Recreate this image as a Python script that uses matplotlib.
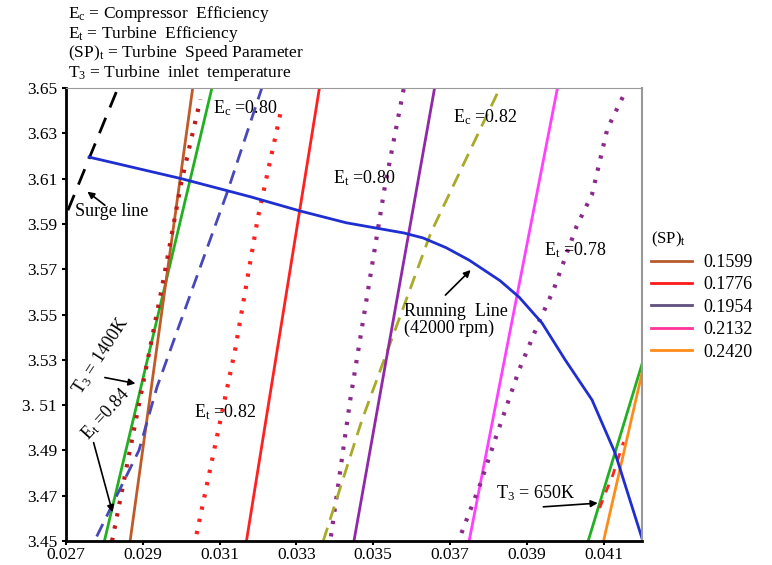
import matplotlib
matplotlib.use('Agg')
import matplotlib.pyplot as plt
from matplotlib.lines import Line2D

plt.rcParams['font.family'] = ['Liberation Serif', 'DejaVu Serif']
plt.rcParams['mathtext.fontset'] = 'custom'
plt.rcParams['mathtext.rm'] = 'Liberation Serif'
plt.rcParams['mathtext.it'] = 'Liberation Serif:italic'
plt.rcParams['font.size'] = 13

# running line (42000 rpm)
run_x = [0.0276, 0.0300, 0.0318, 0.0331, 0.0343, 0.0352, 0.0358, 0.0363, 0.0369, 0.0375, 0.0383, 0.0388, 0.0394, 0.0400, 0.0407, 0.0413, 0.0420]
run_y = [3.6195, 3.6100, 3.6020, 3.5957, 3.5905, 3.5878, 3.5860, 3.5838, 3.5795, 3.5740, 3.5650, 3.5577, 3.5462, 3.5300, 3.5123, 3.4889, 3.4513]

# surge line
surge_x = [0.02705, 0.02840]
surge_y = [3.596, 3.652]

# constant speed-parameter / efficiency lines
brown_x = [0.02867, 0.0303]
brown_y = [3.45, 3.65]
darkred_dot_x = [0.0282, 0.0295, 0.0300, 0.0305]
darkred_dot_y = [3.45, 3.562, 3.608, 3.645]
blue_dash_x = [0.0278, 0.0289, 0.02937, 0.0312, 0.0321]
blue_dash_y = [3.452, 3.490, 3.518, 3.604, 3.65]
red_dot_x = [0.0304, 0.0314, 0.0320, 0.0326]
red_dot_y = [3.453, 3.534, 3.593, 3.640]
red_x = [0.0317, 0.0336]
red_y = [3.45, 3.65]
red_dash_x = [0.0409, 0.04105, 0.04124, 0.04152]
red_dash_y = [3.4646, 3.4712, 3.479, 3.4937]
purple_dot_x = [0.0339, 0.0344, 0.0353, 0.0358]
purple_dot_y = [3.452, 3.512, 3.606, 3.650]
olive_dash_x = [0.0337, 0.0347, 0.0365, 0.0383]
olive_dash_y = [3.45, 3.503, 3.586, 3.65]
purple_x = [0.0345, 0.0366]
purple_y = [3.45, 3.65]
magenta_x = [0.0375, 0.0398]
magenta_y = [3.45, 3.65]
purple_dot2_x = [0.0373, 0.0378, 0.0382, 0.0388, 0.0393, 0.0397, 0.0403, 0.0407, 0.0411, 0.0415]
purple_dot2_y = [3.4535, 3.4756, 3.496, 3.5255, 3.546, 3.561, 3.589, 3.603, 3.632, 3.646]
orange_x = [0.0410, 0.0420]
orange_y = [3.45, 3.524]

# constant T3 lines
t3_1400_x = [0.0280, 0.0308]
t3_1400_y = [3.45, 3.65]
t3_650_x = [0.0406, 0.0420]
t3_650_y = [3.45, 3.528]

sp_values = ['0.1599', '0.1776', '0.1954', '0.2132', '0.2420']
sp_colors = ['#b85a2c', '#ff1a1a', '#5e5080', '#ff3399', '#ff8c1a']

xticks = [0.027, 0.029, 0.031, 0.033, 0.035, 0.037, 0.039, 0.041]
xticklabels = ['0.027', '0.029', '0.031', '0.033', '0.035', '0.037', '0.039', '0.041']
yticks = [3.45, 3.47, 3.49, 3.51, 3.53, 3.55, 3.57, 3.59, 3.61, 3.63, 3.65]
yticklabels = ['3.45', '3.47', '3.49', '3. 51', '3.53', '3.55', '3.57', '3.59', '3.61', '3.63', '3.65']

fig = plt.figure(figsize=(7.72, 5.65), dpi=100)
ax = fig.add_axes([0.0855, 0.0425, 0.746, 0.8017])

dot = (0, (0.8, 2.2))
dash = (0, (5, 3))

ax.plot(surge_x, surge_y, color='black', lw=2, linestyle=(0, (6, 4)))
ax.plot(t3_1400_x, t3_1400_y, color='#22b022', lw=2)
ax.plot(brown_x, brown_y, color='#c05a28', lw=2)
ax.plot(darkred_dot_x, darkred_dot_y, color='#c01a1a', lw=3, linestyle=dot)
ax.plot(blue_dash_x, blue_dash_y, color='#4848b8', lw=2, linestyle=dash)
ax.plot(red_dot_x, red_dot_y, color='#ff2020', lw=3, linestyle=dot)
ax.plot(red_x, red_y, color='#ff2020', lw=2)
ax.plot(purple_dot_x, purple_dot_y, color='#8c2a8c', lw=3, linestyle=dot)
ax.plot(olive_dash_x, olive_dash_y, color='#a8aa28', lw=2, linestyle=dash)
ax.plot(purple_x, purple_y, color='#9028a8', lw=2)
ax.plot(magenta_x, magenta_y, color='#ff40ff', lw=2)
ax.plot(purple_dot2_x, purple_dot2_y, color='#8c2a8c', lw=3, linestyle=dot)
ax.plot(t3_650_x, t3_650_y, color='#22b022', lw=2)
ax.plot(orange_x, orange_y, color='#ff8c1a', lw=2)
ax.plot(red_dash_x, red_dash_y, color='#ff2020', lw=2, linestyle=(0, (3, 3)))
ax.plot(run_x, run_y, color='#1f2ed0', lw=2)

ax.set_xlim(0.027, 0.042)
ax.set_ylim(3.45, 3.65)
ax.set_xticks(xticks)
ax.set_xticklabels(xticklabels)
ax.set_yticks(yticks)
ax.set_yticklabels(yticklabels)
ax.tick_params(length=3, width=1.5, labelsize=12.5)
ax.tick_params(axis='x', pad=1)

ax.spines['left'].set_linewidth(2)
ax.spines['bottom'].set_linewidth(2)
ax.spines['top'].set_color('#999999')
ax.spines['right'].set_color('#999999')
ax.spines['right'].set_linewidth(1.5)

# labels
ax.text(0.03083, 3.6412, r'E$_\mathrm{c}$ =0.80', va='center')
ax.text(0.03709, 3.6372, r'E$_\mathrm{c}$ =0.82', va='center')
ax.text(0.03396, 3.6103, r'E$_\mathrm{t}$ =0.80', va='center')
ax.text(0.03034, 3.5070, r'E$_\mathrm{t}$ =0.82', va='center')
ax.text(0.03944, 3.5785, r'E$_\mathrm{t}$ =0.78', va='center')
ax.text(0.02723, 3.5953, 'Surge line', va='center')
ax.text(0.03581, 3.5476, 'Running  Line\n(42000 rpm)', va='center', linespacing=1.0)
ax.text(0.03819, 3.4712, r'T$_\mathrm{3}$ = 650K', va='center')
ax.text(0.02791, 3.5317, r'T$_\mathrm{3}$ = 1400K', va='center', ha='center', rotation=57)
ax.text(0.02804, 3.5061, r'E$_\mathrm{t}$ =0.84', va='center', ha='center', rotation=48)

arrow = dict(arrowstyle='-|>', color='black', lw=1.2, mutation_scale=10)
ax.annotate('', xy=(0.0275, 3.605), xytext=(0.02807, 3.5975), arrowprops=arrow)
ax.annotate('', xy=(0.02888, 3.5193), xytext=(0.02794, 3.5224), arrowprops=arrow)
ax.annotate('', xy=(0.02823, 3.4615), xytext=(0.0277, 3.4946), arrowprops=arrow)
ax.annotate('', xy=(0.03759, 3.5705), xytext=(0.03683, 3.5577), arrowprops=arrow)
ax.annotate('', xy=(0.04092, 3.4668), xytext=(0.03936, 3.465), arrowprops=arrow)

# header
header = [r'E$_\mathrm{c}$ = Compressor  Efficiency',
          r'E$_\mathrm{t}$ = Turbine  Efficiency',
          r'(SP)$_\mathrm{t}$ = Turbine  Speed Parameter',
          r'T$_\mathrm{3}$ = Turbine  inlet  temperature']
for i, line in enumerate(header):
    fig.text(0.088, 0.975 - i * 0.0345, line, va='center', fontsize=12.5)

handles = [Line2D([0], [0], color=c, lw=2) for c in sp_colors]
leg = ax.legend(handles, sp_values, title=r'(SP)$_\mathrm{t}$', loc='upper left',
                bbox_to_anchor=(0.99, 0.72), frameon=False, fontsize=13,
                handlelength=2.3, handletextpad=0.6, labelspacing=0.3,
                borderpad=0.3, alignment='left')
leg.get_title().set_fontsize(12)

fig.savefig('out.png', dpi=100)
